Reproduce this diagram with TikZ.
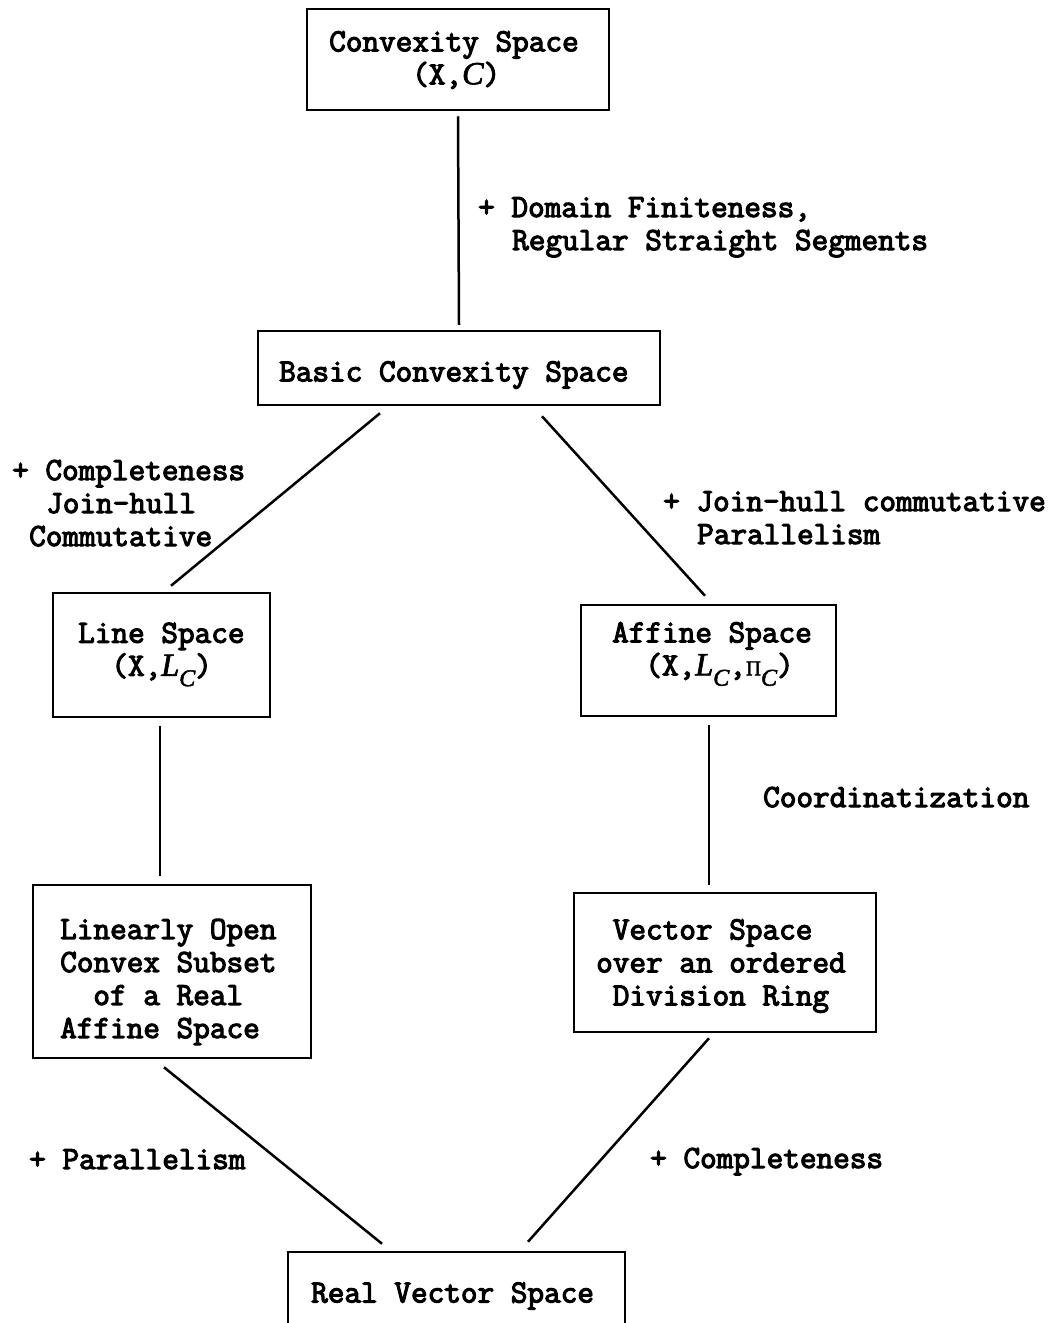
\documentclass[tikz,border=0pt]{standalone}
\usepackage{fontspec}
\usetikzlibrary{calc}
\newfontfamily\twfont{Latin Modern Mono}[FakeBold=3.5]
\newfontfamily\serifitfont{Liberation Serif}[ItalicFont=* Italic, FakeBold=2]
\newcommand{\varit}[1]{{\serifitfont\itshape #1}}
\newcommand{\lowsub}[1]{\raisebox{-0.32em}{\fontsize{24}{24}\selectfont\serifitfont\itshape #1}}
\newcommand{\bigpi}{{\fontsize{21}{21}\selectfont\serifitfont \symbol{"03A0}}}
\newcommand{\col}[1]{\hspace*{#1\dimexpr16.6pt\relax}}
\tikzset{
  x=1pt, y=-1pt,
  tw/.style={font=\twfont\fontsize{32.3}{33}\selectfont},
  box/.style={draw, line width=2.5pt, inner sep=0pt},
  txt/.style={tw, inner sep=0pt, align=left, anchor=west},
  lbl/.style={tw, inner sep=0pt, anchor=base west},
  conn/.style={line width=2.5pt}
}
\begin{document}
\begin{tikzpicture}
\useasboundingbox (0,0) rectangle (1054,1323);
% boxes
\node[box, minimum width=302, minimum height=101] (top) at (458,59.5) {};
\node[box, minimum width=402, minimum height=74] (basic) at (459,368) {};
\node[box, minimum width=217, minimum height=124] (line) at (161.5,655) {};
\node[box, minimum width=255, minimum height=111] (affine) at (708.5,660.5) {};
\node[box, minimum width=278, minimum height=173] (linopen) at (172,971.5) {};
\node[box, minimum width=302, minimum height=139] (vector) at (725,962.5) {};
\node[box, minimum width=337, minimum height=86] (real) at (456.5,1295) {};
% box texts
\node[txt] (ttop) at (329,60) {Convexity Space\\\col{5}(X,\varit{C})};
\node[txt] (tbasic) at (279,375) {Basic Convexity Space};
\node[txt] (tline) at (78,654.5) {Line Space\\\col{2}(X,\varit{L}\lowsub{C})};
\node[txt] (taffine) at (612,654) {Affine Space\\\col{2}(X,\varit{L}\lowsub{C},\bigpi\lowsub{C})};
\node[txt] (tlinopen) at (60,982) {Linearly Open\\Convex Subset\\\col{2}of a Real\\Affine Space};
\node[txt] (tvector) at (596,966) {\col{1}Vector Space\\over an ordered\\\col{1}Division Ring};
\node[txt] (treal) at (311,1296) {Real Vector Space};
% connectors
\draw[conn] ($(top.south)+(0,5)$) -- ($(basic.north)+(0,-5)$);
\draw[conn] ($(basic.south)+(-79,7)$) -- ($(line.north)+(9.5,-6)$);
\draw[conn] ($(basic.south)+(83,10)$) -- ($(affine.north)+(-3.5,-8)$);
\draw[conn] ($(line.south)+(-1.5,8)$) -- ($(linopen.north)+(-12,-8)$);
\draw[conn] ($(affine.south)+(0.5,8)$) -- ($(vector.north)+(-16,-7)$);
\draw[conn] ($(linopen.south)+(-8,8)$) -- ($(real.north)+(-74.5,-7)$);
\draw[conn] ($(vector.south)+(-16,5)$) -- ($(real.north)+(71.5,-9)$);
% connector labels
\node[lbl] (l1) at (478,217) {+ Domain Finiteness,};
\node[lbl] (l2) at (512,250) {Regular Straight Segments};
\node[lbl] (l3) at (12,480) {+ Completeness};
\node[lbl] (l4) at (46,513) {Join-hull};
\node[lbl] (l5) at (29,546) {Commutative};
\node[lbl] (l6) at (663,511) {+ Join-hull commutative};
\node[lbl] (l7) at (697,544) {Parallelism};
\node[lbl] (l8) at (763,807) {Coordinatization};
\node[lbl] (l9) at (29,1169) {+ Parallelism};
\node[lbl] (l10) at (650,1168) {+ Completeness};
\end{tikzpicture}
\end{document}
